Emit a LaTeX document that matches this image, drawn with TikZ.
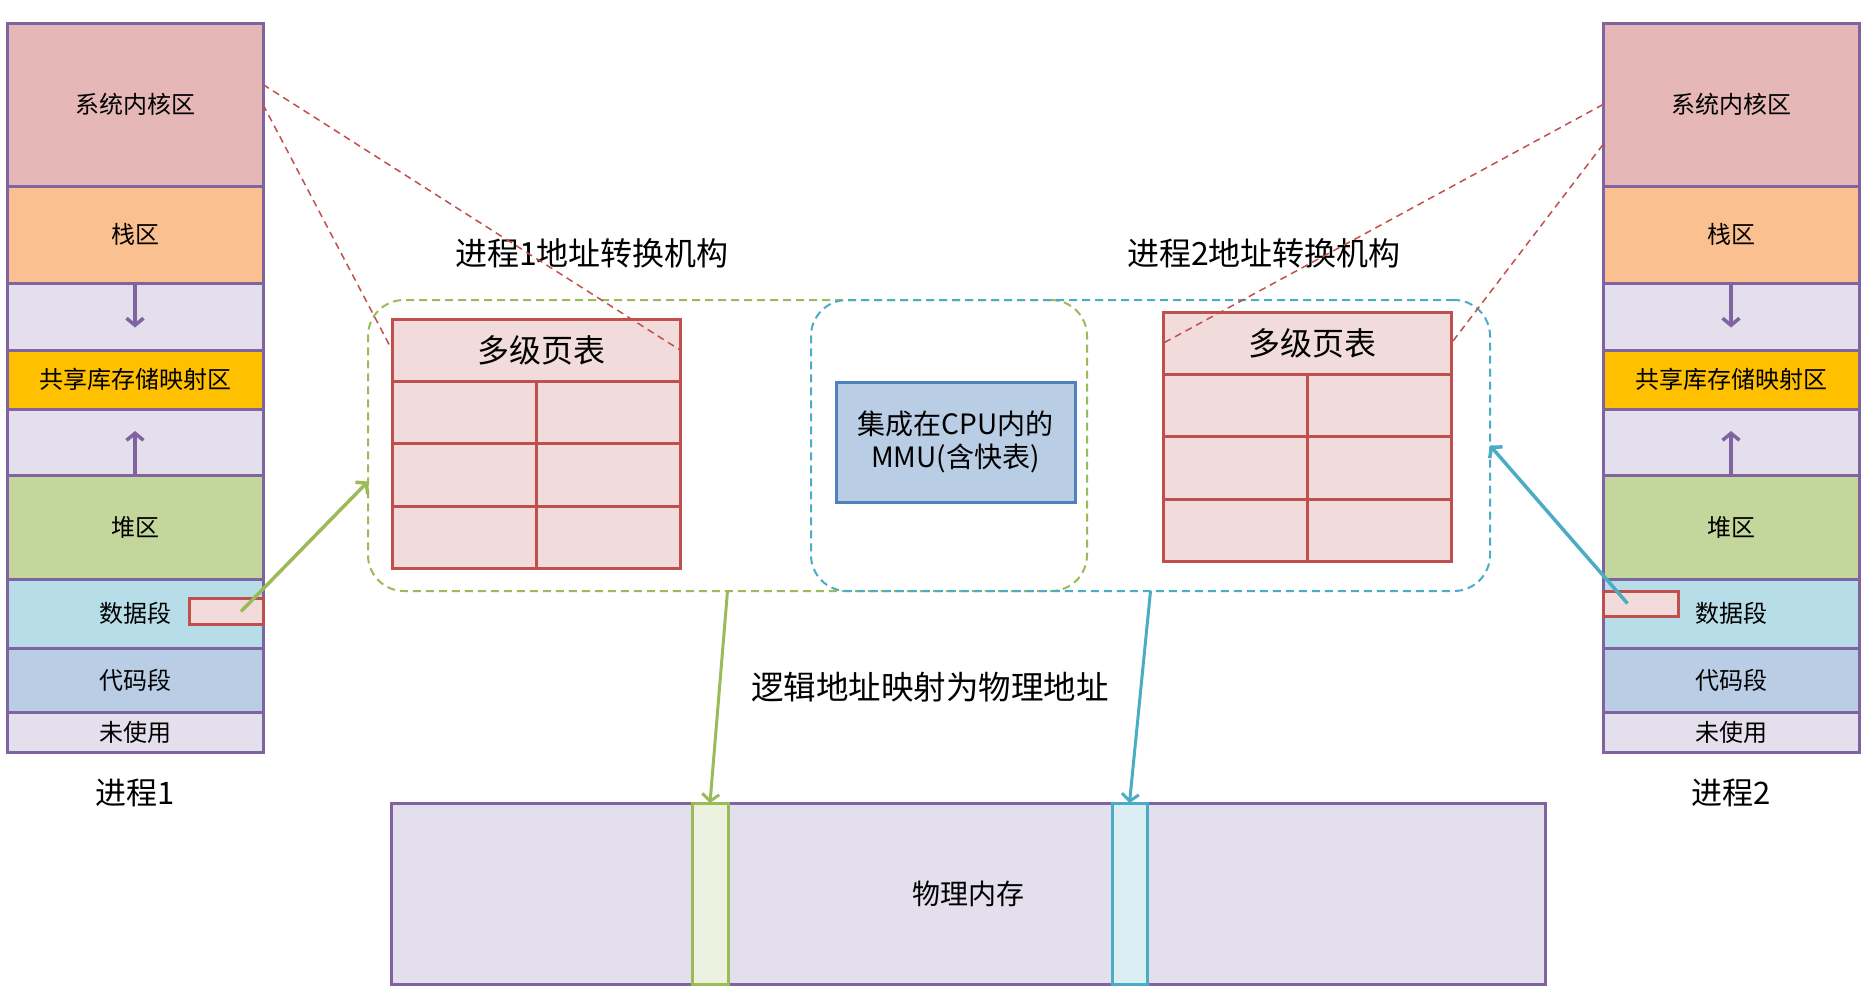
\documentclass[tikz,border=0pt]{standalone}
\usepackage{fontspec}
\newfontfamily\cjk{Noto Sans CJK SC}
\usetikzlibrary{positioning, arrows.meta}

\definecolor{segline}{HTML}{8064A2}
\definecolor{kernelfill}{HTML}{E5B8B7}
\definecolor{stackfill}{HTML}{FAC090}
\definecolor{gapfill}{HTML}{E4DFEC}
\definecolor{sharedfill}{HTML}{FFC000}
\definecolor{heapfill}{HTML}{C3D69B}
\definecolor{datafill}{HTML}{B7DEE8}
\definecolor{codefill}{HTML}{B9CDE5}
\definecolor{tabline}{HTML}{C0504D}
\definecolor{tabfill}{HTML}{F2DCDB}
\definecolor{mmuline}{HTML}{4F81BD}
\definecolor{grn}{HTML}{9BBB59}
\definecolor{grnfill}{HTML}{EBF1DE}
\definecolor{blu}{HTML}{4BACC6}
\definecolor{blufill}{HTML}{DAEEF3}

\tikzset{
	seg/.style={draw=segline, line width=3pt, minimum width=256pt, inner sep=0pt, outer sep=0pt, font=\cjk\fontsize{24}{28}\selectfont},
	tab/.style={draw=tabline, fill=tabfill, line width=3pt, inner sep=0pt, outer sep=0pt},
	cell/.style={tab, minimum width=144pt, minimum height=62.5pt},
	grpbox/.style={line width=2pt, dash pattern=on 8pt off 5pt, rounded corners=36pt, minimum height=291pt, inner sep=0pt, outer sep=0pt},
	slotbox/.style={line width=3pt, minimum height=181pt, inner sep=0pt, outer sep=0pt},
	kline/.style={draw=tabline, line width=1.5pt, dash pattern=on 7pt off 5pt},
	title/.style={font=\cjk\fontsize{32}{38}\selectfont},
	>={Straight Barb[length=7pt, width=17pt]}
}

\begin{document}
\begin{tikzpicture}[x=1pt, y=-1pt]

	\useasboundingbox (0,0) rectangle (1867,1004);

	\node[grpbox, draw=grn, minimum width=719pt] (grp1) at (727.5,445.5) {};
	\node[grpbox, draw=blu, minimum width=679pt] (grp2) at (1150.5,445.5) {};
	\node[title] (t1) at (592,253) {进程1地址转换机构};
	\node[title] (t2) at (1264,253) {进程2地址转换机构};

	\node[tab, minimum width=288pt, minimum height=62pt, font=\cjk\fontsize{32}{36}\selectfont] (pt1) at (536,350) {\hspace*{10pt}\raisebox{-5pt}{多级页表}};
	\node[cell, below right=0pt of pt1.south west] (pt1a) {};
	\node[cell, right=0pt of pt1a] (pt1b) {};
	\node[cell, below=0pt of pt1a] (pt1c) {};
	\node[cell, right=0pt of pt1c] (pt1d) {};
	\node[cell, below=0pt of pt1c] (pt1e) {};
	\node[cell, right=0pt of pt1e] (pt1f) {};

	\node[tab, minimum width=288pt, minimum height=62pt, font=\cjk\fontsize{32}{36}\selectfont] (pt2) at (1307.5,343) {\hspace*{10pt}\raisebox{-5pt}{多级页表}};
	\node[cell, below right=0pt of pt2.south west] (pt2a) {};
	\node[cell, right=0pt of pt2a] (pt2b) {};
	\node[cell, below=0pt of pt2a] (pt2c) {};
	\node[cell, right=0pt of pt2c] (pt2d) {};
	\node[cell, below=0pt of pt2c] (pt2e) {};
	\node[cell, right=0pt of pt2e] (pt2f) {};

	\node[draw=mmuline, fill=codefill, line width=3pt, minimum width=239pt, minimum height=120pt, align=center, font=\cjk\fontsize{28}{33}\selectfont] (mmu) at (955.5,442) {集成在CPU内的\\MMU(含快表)};

	\node[seg, fill=kernelfill, minimum height=163pt] (k1) at (135,104.5) {系统内核区};
	\node[seg, fill=stackfill, minimum height=97pt, below=0pt of k1] (s1) {栈区};
	\node[seg, fill=gapfill, minimum height=67pt, below=0pt of s1] (g1) {};
	\node[seg, fill=sharedfill, minimum height=59pt, below=0pt of g1] (m1) {共享库存储映射区};
	\node[seg, fill=gapfill, minimum height=66pt, below=0pt of m1] (f1) {};
	\node[seg, fill=heapfill, minimum height=104pt, below=0pt of f1] (h1) {堆区};
	\node[seg, fill=datafill, minimum height=69pt, below=0pt of h1] (d1) {数据段};
	\node[seg, fill=codefill, minimum height=64pt, below=0pt of d1] (c1) {代码段};
	\node[seg, fill=gapfill, minimum height=40pt, below=0pt of c1] (u1) {未使用};
	\node[title, font=\cjk\fontsize{31}{36}\selectfont] (n1) at (135,793) {进程1};
	\node[tab, minimum width=74pt, minimum height=26pt, anchor=east] (r1) at ([yshift=2pt]d1.east) {};

	\node[seg, fill=kernelfill, minimum height=163pt] (k2) at (1731,104.5) {系统内核区};
	\node[seg, fill=stackfill, minimum height=97pt, below=0pt of k2] (s2) {栈区};
	\node[seg, fill=gapfill, minimum height=67pt, below=0pt of s2] (g2) {};
	\node[seg, fill=sharedfill, minimum height=59pt, below=0pt of g2] (m2) {共享库存储映射区};
	\node[seg, fill=gapfill, minimum height=66pt, below=0pt of m2] (f2) {};
	\node[seg, fill=heapfill, minimum height=104pt, below=0pt of f2] (h2) {堆区};
	\node[seg, fill=datafill, minimum height=69pt, below=0pt of h2] (d2) {数据段};
	\node[seg, fill=codefill, minimum height=64pt, below=0pt of d2] (c2) {代码段};
	\node[seg, fill=gapfill, minimum height=40pt, below=0pt of c2] (u2) {未使用};
	\node[title, font=\cjk\fontsize{31}{36}\selectfont] (n2) at (1731,793) {进程2};
	\node[tab, minimum width=75pt, minimum height=25pt, anchor=west] (r2) at ([yshift=10pt]d2.west) {};

	\draw[segline, line width=3.5pt, ->] (g1.north) -- ([yshift=-11pt]g1.center);
	\draw[segline, line width=3.5pt, ->] (f1.south) -- ([yshift=11pt]f1.center);
	\draw[segline, line width=3.5pt, ->] (g2.north) -- ([yshift=-11pt]g2.center);
	\draw[segline, line width=3.5pt, ->] (f2.south) -- ([yshift=11pt]f2.center);

	\node[draw=segline, fill=gapfill, line width=3pt, minimum width=1154pt, minimum height=181pt, font=\cjk\fontsize{28}{32}\selectfont] (mem) at (968,893.5) {物理内存};
	\node[slotbox, draw=grn, fill=grnfill, minimum width=36pt] (slot1) at (710,893.5) {};
	\node[slotbox, draw=blu, fill=blufill, minimum width=35pt] (slot2) at (1129.5,893.5) {};
	\node[title, font=\cjk\fontsize{32.5}{38}\selectfont] (map) at (930,687) {逻辑地址映射为物理地址};

	\draw[kline] ([yshift=20pt]k1.east) -- (pt1.east);
	\draw[kline] (k1.east) -- (pt1.west);
	\draw[kline] (k2.west) -- (pt2.west);
	\draw[kline] ([yshift=-40pt]k2.west) -- (pt2.east);

	\draw[grn, line width=3.5pt, ->] ([xshift=15pt]r1.center) -- ([yshift=-36pt]grp1.west);
	\draw[blu, line width=3.5pt, ->] ([xshift=-13pt]r2.center) -- (grp2.east);
	\draw[grn, line width=3pt, ->] (grp1.south) -- (slot1.north);
	\draw[blu, line width=3pt, ->] (grp2.south) -- (slot2.north);

\end{tikzpicture}
\end{document}
